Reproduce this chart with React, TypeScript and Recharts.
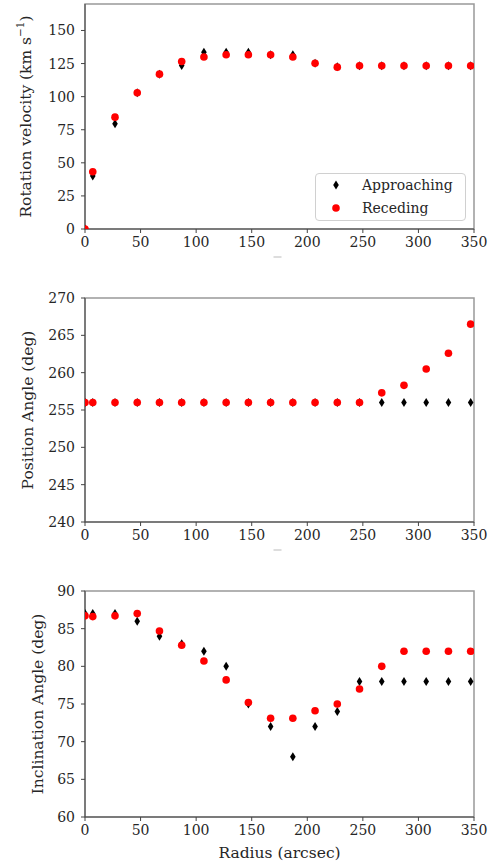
import { ScatterChart, Scatter, XAxis, YAxis, ReferenceArea, Legend } from "recharts";

const radius = [0, 7, 27, 47, 67, 87, 107, 127, 147, 167, 187, 207, 227, 247, 267, 287, 307, 327, 347];

const velApproaching = [0, 40, 79.6, 103, 117, 123.6, 133.5, 133.5, 133.5, 131.6, 131.6, 125.2, 122.5, 123.3, 123.3, 123.3, 123.3, 123.3, 123.3];
const velReceding = [0, 43.2, 84.5, 103, 117, 126.5, 130, 131.6, 131.6, 131.6, 129.9, 125.2, 122.3, 123.3, 123.3, 123.3, 123.3, 123.3, 123.3];

const paApproaching = [256, 256, 256, 256, 256, 256, 256, 256, 256, 256, 256, 256, 256, 256, 256, 256, 256, 256, 256];
const paReceding = [256, 256, 256, 256, 256, 256, 256, 256, 256, 256, 256, 256, 256, 256, 257.3, 258.3, 260.5, 262.6, 266.5];

const incApproaching = [87, 87, 87, 86, 84, 83, 82, 80, 75, 72, 68, 72, 74, 78, 78, 78, 78, 78, 78];
const incReceding = [86.7, 86.6, 86.7, 87, 84.7, 82.8, 80.7, 78.2, 75.2, 73.1, 73.1, 74.1, 75, 77, 80, 82, 82, 82, 82];

const xTicks = [0, 50, 100, 150, 200, 250, 300, 350];
const velTicks = [0, 25, 50, 75, 100, 125, 150];
const paTicks = [240, 245, 250, 255, 260, 265, 270];
const incTicks = [60, 65, 70, 75, 80, 85, 90];

const FONT = "'DejaVu Serif', serif";
const TEXT = "#262626";
const LABEL_SIZE = 15.5;
const tickStyle = { fontFamily: FONT, fontSize: 14, fill: TEXT };

const toPoints = (ys: number[]) => radius.map((r, i) => ({ r, v: ys[i] }));

const Diamond = (props: any) => {
  const { cx, cy } = props;
  return <path d={`M${cx},${cy - 4.5} L${cx + 2.8},${cy} L${cx},${cy + 4.5} L${cx - 2.8},${cy} Z`} fill="#000" />;
};
const Dot = (props: any) => <circle cx={props.cx} cy={props.cy} r={3.8} fill="#ff0000" />;

const LegendBox = () => (
  <div
    style={{
      position: "relative",
      width: 151,
      height: 48,
      border: "1px solid #d0d0d0",
      borderRadius: 4,
      boxSizing: "border-box",
      background: "rgba(255,255,255,0.8)",
      fontFamily: FONT,
      fontSize: 14,
      lineHeight: "16px",
      color: TEXT,
    }}
  >
    <svg width={151} height={48} style={{ position: "absolute", left: -1, top: -1 }}>
      <Diamond cx={21} cy={12} />
      <Dot cx={21} cy={35} />
    </svg>
    <div style={{ position: "absolute", left: 46, top: 3 }}>Approaching</div>
    <div style={{ position: "absolute", left: 46, top: 26 }}>Receding</div>
  </div>
);

function yLabel(lines: any, x: number) {
  return (p: any) => {
    const vb = p.viewBox;
    const cy = vb.y + vb.height / 2;
    return (
      <text
        x={x}
        y={cy}
        transform={`rotate(-90 ${x} ${cy})`}
        textAnchor="middle"
        dominantBaseline="central"
        fontFamily={FONT}
        fontSize={LABEL_SIZE}
        fill={TEXT}
      >
        {lines}
      </text>
    );
  };
}

const xLabel = (p: any) => {
  const vb = p.viewBox;
  return (
    <text
      x={vb.x + vb.width / 2}
      y={vb.y + 36}
      textAnchor="middle"
      dominantBaseline="central"
      fontFamily={FONT}
      fontSize={LABEL_SIZE}
      fill={TEXT}
    >
      Radius (arcsec)
    </text>
  );
};

const dash = (p: any) => {
  const vb = p.viewBox;
  const cx = vb.x + vb.width / 2 - 2;
  return <line x1={cx - 4} x2={cx + 4} y1={vb.y + 28} y2={vb.y + 28} stroke="#bbb" strokeWidth={1} />;
};

function Panel(props: {
  top: number;
  height: number;
  marginTop: number;
  xAxisHeight: number;
  domain: [number, number];
  ticks: number[];
  label: any;
  labelX: number;
  approaching: number[];
  receding: number[];
  legend?: boolean;
  xlabel?: boolean;
}) {
  const { domain } = props;
  return (
    <div style={{ position: "absolute", left: 0, top: props.top }}>
      <ScatterChart
        width={503}
        height={props.height}
        margin={{ top: props.marginTop, right: 29, bottom: 0, left: 0 }}
      >
        <ReferenceArea
          x1={0}
          x2={350}
          y1={domain[0]}
          y2={domain[1]}
          fill="none"
          stroke="#999"
          strokeWidth={1.5}
          ifOverflow="visible"
        />
        <XAxis
          type="number"
          dataKey="r"
          domain={[0, 350]}
          ticks={xTicks}
          allowDataOverflow
          height={props.xAxisHeight}
          tick={tickStyle}
          tickSize={4}
          tickMargin={4}
          stroke="#444"
          label={{ content: props.xlabel ? xLabel : dash }}
        />
        <YAxis
          type="number"
          dataKey="v"
          domain={domain}
          ticks={props.ticks}
          allowDataOverflow
          width={85}
          tick={tickStyle}
          tickSize={4}
          tickMargin={6}
          stroke="#444"
          label={{ content: yLabel(props.label, props.labelX) }}
        />
        <Scatter data={toPoints(props.approaching)} shape={Diamond} isAnimationActive={false} />
        <Scatter data={toPoints(props.receding)} shape={Dot} isAnimationActive={false} />
        {props.legend && (
          <Legend
            layout="horizontal"
            verticalAlign="middle"
            align="center"
            content={() => <LegendBox />}
            wrapperStyle={{ position: "absolute", left: 315, top: 173, width: 151, height: 48 }}
          />
        )}
      </ScatterChart>
    </div>
  );
}

export default function App() {
  return (
    <div style={{ position: "absolute", left: 0, top: 0, width: 503, height: 866, background: "#fff" }}>
      <Panel
        top={0}
        height={260}
        marginTop={4}
        xAxisHeight={31}
        domain={[0, 170]}
        ticks={velTicks}
        label={[
          <tspan key="a">Rotation velocity (km s</tspan>,
          <tspan key="b" dy={-6} fontSize={10.5}>−1</tspan>,
          <tspan key="c" dy={6}>)</tspan>,
        ]}
        labelX={26}
        approaching={velApproaching}
        receding={velReceding}
        legend
      />
      <Panel
        top={280}
        height={273}
        marginTop={18}
        xAxisHeight={31}
        domain={[240, 270]}
        ticks={paTicks}
        label="Position Angle (deg)"
        labelX={28}
        approaching={paApproaching}
        receding={paReceding}
      />
      <Panel
        top={570}
        height={296}
        marginTop={21}
        xAxisHeight={49}
        domain={[60, 90]}
        ticks={incTicks}
        label="Inclination Angle (deg)"
        labelX={38}
        approaching={incApproaching}
        receding={incReceding}
        xlabel
      />
    </div>
  );
}
